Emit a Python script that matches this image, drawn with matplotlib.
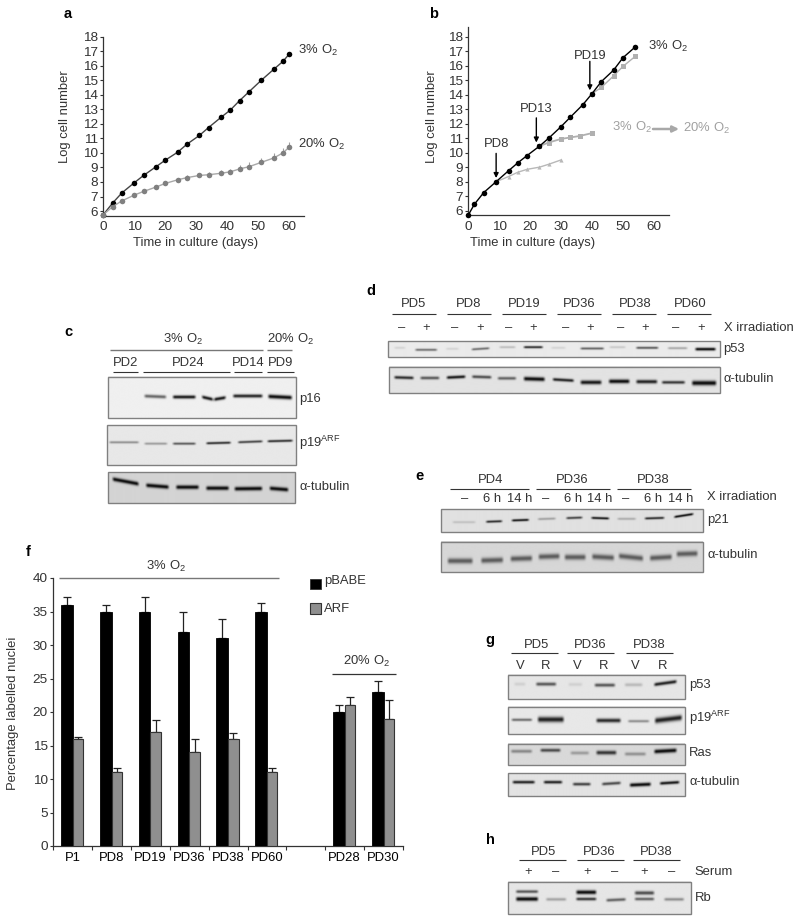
import numpy as np
import matplotlib
matplotlib.use("Agg")
import matplotlib.pyplot as plt
from matplotlib.patches import Rectangle

plt.rcParams['font.family'] = ['Liberation Sans', 'DejaVu Sans']
plt.rcParams['mathtext.fontset'] = 'custom'
plt.rcParams['mathtext.rm'] = 'Liberation Sans'
plt.rcParams['mathtext.default'] = 'regular'

W, H = 800, 924
TXT = '#333333'
FS = 9.4
O3 = r'$3\%\ O_2$'
O20 = r'$20\%\ O_2$'

# panel a
days_a = [0, 3, 6, 10, 13, 17, 20, 24, 27, 31, 34, 38, 41, 44, 47, 51, 55, 58, 60]
a_3 = [5.75, 6.55, 7.25, 7.95, 8.45, 9.05, 9.5, 10.05, 10.6, 11.2, 11.75, 12.45, 12.95, 13.6, 14.2, 15.0, 15.75, 16.3, 16.8]
a_3_err = [0, 0.05, 0.1, 0.05, 0.1, 0.05, 0.05, 0.05, 0.1, 0.1, 0.05, 0.05, 0.05, 0.05, 0.05, 0.05, 0.05, 0.1, 0.15]
a_20 = [5.75, 6.3, 6.7, 7.1, 7.35, 7.65, 7.9, 8.15, 8.3, 8.45, 8.5, 8.6, 8.7, 8.9, 9.05, 9.35, 9.65, 10.0, 10.4]
a_20_err = [0, 0.1, 0.1, 0.1, 0.1, 0.1, 0.1, 0.1, 0.15, 0.15, 0.2, 0.2, 0.2, 0.3, 0.3, 0.3, 0.35, 0.35, 0.35]

# panel b
days_b = [0, 2, 5, 9, 13, 16, 19, 23, 26, 30, 33, 37, 40, 43, 47, 50, 54]
b_3 = [5.7, 6.45, 7.25, 8.0, 8.75, 9.3, 9.8, 10.45, 11.0, 11.8, 12.45, 13.3, 14.07, 14.9, 15.7, 16.55, 17.3]
b_pd8_days = [9, 13, 16, 19, 23, 26, 30]
b_pd8 = [8.0, 8.35, 8.65, 8.85, 9.0, 9.2, 9.5]
b_pd13_days = [23, 26, 30, 33, 36, 40]
b_pd13 = [10.45, 10.7, 10.95, 11.05, 11.15, 11.35]
b_pd19_days = [40, 43, 47, 50, 54]
b_pd19 = [14.07, 14.5, 15.3, 15.95, 16.65]

# panel f
f_labels = ['P1', 'PD8', 'PD19', 'PD36', 'PD38', 'PD60', '', 'PD28', 'PD30']
f_slots = [0, 1, 2, 3, 4, 5, 7, 8]
pbabe = [36, 35, 35, 32, 31, 35, 20, 23]
pbabe_err = [1.2, 1.0, 2.1, 3.0, 2.9, 1.3, 1.0, 1.6]
arf = [16, 11, 17, 14, 16, 11, 21, 19]
arf_err = [0.2, 0.6, 1.8, 1.9, 0.9, 0.7, 1.3, 2.8]

# blots, in coordinates of a 3x crop: (x0, x1, y at x0, y at x1, darkness[, width])
blots_c = [
    ((175, 737, 290, 415), 0.94, 5, [(280, 352, 349, 352, 0.6), (365, 440, 352, 352, 0.95), (452, 492, 351, 360, 0.95),
                                     (488, 530, 360, 353, 0.95), (545, 640, 349, 349, 0.9), (650, 728, 350, 354, 1.0, 6)]),
    ((172, 737, 436, 555), 0.91, 3.5, [(175, 270, 487, 487, 0.4), (280, 355, 491, 491, 0.35), (365, 440, 491, 491, 0.65),
                                       (465, 545, 490, 488, 0.85), (560, 640, 487, 484, 0.75), (648, 730, 484, 482, 0.85)]),
    ((175, 735, 577, 670), 0.83, 6, [(185, 270, 597, 613, 1.0), (285, 360, 616, 622, 1.0), (375, 450, 622, 622, 1.0),
                                     (465, 540, 625, 625, 1.0), (550, 640, 627, 626, 1.0), (655, 718, 625, 630, 1.0)]),
]
blots_d = [
    ((55, 1050, 212, 260), 0.92, 3.5, [(70, 110, 232, 232, 0.1), (133, 205, 238, 238, 0.55), (225, 270, 235, 235, 0.1),
                                       (302, 362, 237, 233, 0.55), (385, 440, 230, 230, 0.2), (458, 522, 230, 230, 0.85),
                                       (540, 590, 232, 232, 0.1), (628, 705, 234, 234, 0.6), (715, 770, 230, 230, 0.15),
                                       (795, 868, 232, 232, 0.65), (890, 955, 233, 233, 0.3), (972, 1040, 236, 236, 1.0, 4.5)]),
    ((58, 1050, 290, 370), 0.89, 4.5, [(70, 135, 323, 325, 0.85), (148, 212, 325, 325, 0.65), (227, 290, 324, 321, 0.95),
                                       (303, 368, 321, 323, 0.7), (380, 442, 326, 326, 0.6), (458, 528, 327, 329, 1.0, 6),
                                       (545, 615, 329, 333, 0.9), (628, 698, 338, 338, 0.95, 6), (713, 782, 335, 335, 1.0, 6),
                                       (795, 865, 336, 336, 0.9, 5.5), (872, 948, 338, 338, 0.8), (962, 1042, 340, 340, 1.0, 7)]),
]
blots_e = [
    ((214, 998, 718, 787), 0.88, 3.5, [(245, 320, 757, 757, 0.15), (345, 400, 756, 754, 0.85), (422, 480, 752, 750, 0.95),
                                       (500, 560, 748, 746, 0.3), (585, 640, 745, 743, 0.75), (660, 720, 744, 746, 0.95),
                                       (738, 800, 747, 747, 0.25), (820, 885, 746, 744, 0.85), (908, 972, 742, 732, 1.0)]),
    ((214, 998, 815, 906), 0.84, 8, [(230, 312, 873, 873, 0.6), (330, 403, 872, 870, 0.6), (418, 490, 867, 865, 0.6),
                                     (502, 572, 861, 859, 0.6), (580, 650, 862, 862, 0.6), (662, 735, 860, 864, 0.6),
                                     (742, 822, 858, 866, 0.6), (835, 908, 865, 861, 0.6), (915, 985, 853, 851, 0.6)]),
]
blots_g = [
    ((85, 614, 255, 328), 0.9, 5, [(100, 140, 284, 284, 0.1), (165, 232, 284, 284, 0.65), (262, 310, 285, 285, 0.1),
                                   (340, 408, 287, 287, 0.65), (430, 490, 286, 286, 0.2), (518, 592, 286, 276, 0.9)]),
    ((85, 614, 351, 433), 0.91, 4, [(92, 160, 391, 391, 0.55), (170, 255, 390, 390, 0.9, 8), (345, 425, 393, 393, 0.85, 6),
                                    (440, 510, 395, 395, 0.4), (520, 608, 394, 384, 0.9, 8)]),
    ((85, 614, 461, 526), 0.85, 5, [(90, 160, 485, 485, 0.4), (178, 245, 482, 482, 0.7), (268, 330, 490, 490, 0.3),
                                    (345, 412, 489, 489, 0.8, 6), (430, 500, 493, 493, 0.35), (518, 592, 486, 482, 1.0, 6)]),
    ((85, 614, 548, 617), 0.89, 4.5, [(95, 168, 575, 575, 0.9), (188, 250, 575, 575, 0.9), (275, 335, 581, 581, 0.75),
                                      (362, 425, 581, 577, 0.7), (445, 515, 584, 581, 1.0, 5.5), (535, 600, 579, 575, 0.95)]),
]
blots_h = [
    ((85, 632, 875, 973), 0.9, 4.5, [(105, 178, 906, 906, 0.65), (105, 178, 928, 928, 1.0, 6), (195, 262, 929, 929, 0.3),
                                     (285, 352, 908, 908, 1.0, 6), (285, 352, 928, 928, 0.8), (375, 440, 932, 929, 0.6),
                                     (460, 525, 910, 910, 0.7, 5.5), (460, 525, 928, 928, 0.6), (548, 614, 929, 929, 0.4)]),
]


def axes_px(fig, left, right, top, bottom):
    return fig.add_axes([left / W, 1 - bottom / H, (right - left) / W, (bottom - top) / H])


def style_axes(ax):
    for s in ['top', 'right']:
        ax.spines[s].set_visible(False)
    for s in ['left', 'bottom']:
        ax.spines[s].set_linewidth(0.9)
        ax.spines[s].set_color(TXT)
    ax.tick_params(colors=TXT, labelsize=FS + 0.3, width=0.8, length=2.5, pad=1.5)


def draw_blot(ov, ox, oy, frame, bg, sig, bands):
    # image pixels are the crop pixels, so 3 per figure pixel
    x0, x1, y0, y1 = frame
    X, Y = np.meshgrid(np.arange(x0, x1), np.arange(y0, y1))
    dark = np.zeros(X.shape)
    for b in bands:
        s = b[5] if len(b) > 5 else sig
        env = np.clip((X - b[0]) / 9, 0, 1) * np.clip((b[1] - X) / 9, 0, 1)
        yc = b[2] + (b[3] - b[2]) * (X - b[0]) / (b[1] - b[0])
        dark += b[4] * env * np.exp(-((Y - yc) / s) ** 2)
    img = bg - (bg - 0.04) * np.clip(dark, 0, 1)
    ext = (ox + x0 / 3, ox + x1 / 3, oy + y1 / 3, oy + y0 / 3)
    ov.imshow(img, extent=ext, cmap='gray', vmin=0, vmax=1, aspect='auto', interpolation='bilinear', zorder=2)
    ov.add_patch(Rectangle((ext[0], ext[3]), ext[1] - ext[0], ext[2] - ext[3], fill=False,
                           ec='#808080', lw=1, zorder=3))


def put(ov, x, y, s, ha='center', color=TXT, size=FS, **kw):
    ov.text(x, y, s, ha=ha, va='center', color=color, fontsize=size, **kw)


def rule(ov, x0, x1, y, color=TXT, lw=0.8):
    ov.plot([x0, x1], [y, y], color=color, lw=lw, solid_capstyle='butt')


fig = plt.figure(figsize=(W / 100, H / 100), dpi=100)

# a
ax = axes_px(fig, 103.3, 304, 36.7, 215.7)
ax.plot(days_a, a_3, color='#444444', lw=1, zorder=2)
ax.errorbar(days_a, a_3, yerr=[np.zeros(len(a_3)), a_3_err], fmt='o', ms=4, mew=0, color='black',
            elinewidth=0.8, capsize=1.5, clip_on=False, zorder=3)
ax.plot(days_a, a_20, color='#a8a8a8', lw=1, zorder=4)
ax.errorbar(days_a, a_20, yerr=[np.zeros(len(a_20)), a_20_err], fmt='o', ms=4, mew=0, color='#808080',
            ecolor='#a0a0a0', elinewidth=0.8, capsize=1.5, clip_on=False, zorder=5)
ax.set_xlim(0, 64.8)
ax.set_ylim(5.68, 18)
ax.set_xticks(range(0, 61, 10))
ax.set_yticks(range(6, 19))
style_axes(ax)
ax.tick_params(axis='x', length=0, pad=4)

# b
bx = axes_px(fig, 468.3, 668.7, 27.3, 215)
bx.plot(b_pd8_days, b_pd8, '-^', color='#b8b8b8', lw=1, ms=3, mew=0, clip_on=False, zorder=2)
bx.plot(b_pd13_days, b_pd13, '-s', color='#b0b0b0', lw=1.3, ms=3.6, mew=0, clip_on=False, zorder=2)
bx.plot(b_pd19_days, b_pd19, '-s', color='#b0b0b0', lw=1, ms=3.6, mew=0, clip_on=False, zorder=2)
bx.plot(days_b, b_3, '-o', color='black', lw=1, ms=4, mew=0, clip_on=False, zorder=4)
bx.set_xlim(0, 64.8)
bx.set_ylim(5.7, 18.65)
bx.set_xticks(range(0, 61, 10))
bx.set_yticks(range(6, 19))
style_axes(bx)
bx.tick_params(axis='x', length=0, pad=4)
for lbl, x, y_from, y_to, y_text in [('PD8', 9, 9.95, 8.25, 10.6), ('PD13', 22, 12.4, 10.7, 13.0), ('PD19', 39.3, 16.3, 14.3, 16.7)]:
    bx.annotate('', xy=(x, y_to), xytext=(x, y_from),
                arrowprops=dict(arrowstyle='-|>', color='black', lw=1, mutation_scale=7, shrinkA=0, shrinkB=0), zorder=6)
    bx.text(x, y_text, lbl, ha='center', va='center', fontsize=FS, color=TXT)

# f
fx = axes_px(fig, 53.3, 403, 578, 846)
xs = np.array(f_slots)
fx.bar(xs + 0.2, pbabe, width=0.3, align='edge', color='black', edgecolor='black', lw=0.6, zorder=3)
fx.bar(xs + 0.5, arf, width=0.27, align='edge', color='#8f8f8f', edgecolor='#333333', lw=0.8, zorder=3)
fx.errorbar(xs + 0.35, pbabe, yerr=[np.zeros(len(pbabe)), pbabe_err], fmt='none', ecolor='#222222',
            elinewidth=0.9, capsize=3, capthick=0.9, zorder=2)
fx.errorbar(xs + 0.635, arf, yerr=[np.zeros(len(arf)), arf_err], fmt='none', ecolor='#222222',
            elinewidth=0.9, capsize=3, capthick=0.9, zorder=2)
fx.set_xlim(0, 9)
fx.set_ylim(0, 40)
fx.set_yticks(range(0, 41, 5))
fx.set_xticks(range(10))
fx.set_xticklabels([])
fx.set_xticks(np.arange(9) + 0.5, minor=True)
fx.set_xticklabels(f_labels, minor=True)
style_axes(fx)
fx.tick_params(axis='x', which='major', length=3)
fx.tick_params(axis='x', which='minor', length=0, pad=4, labelsize=FS)

# everything else in figure pixels
ov = fig.add_axes([0, 0, 1, 1])
ov.patch.set_alpha(0)
ov.axis('off')

for frame, bg, sig, bands in blots_c:
    draw_blot(ov, 50, 280, frame, bg, sig, bands)
for frame, bg, sig, bands in blots_d + blots_e:
    draw_blot(ov, 370, 270, frame, bg, sig, bands)
for frame, bg, sig, bands in blots_g + blots_h:
    draw_blot(ov, 480, 590, frame, bg, sig, bands)
ov.set_xlim(0, W)
ov.set_ylim(H, 0)

# panel letters
for s, x, y in [('a', 68, 14), ('b', 434, 14), ('c', 68, 332), ('d', 371, 291),
                ('e', 420, 476), ('f', 28, 552), ('g', 490, 640), ('h', 490, 840)]:
    put(ov, x, y, s, color='black', size=10.5, fontweight='bold')

# chart labels
put(ov, 196, 243, 'Time in culture (days)')
put(ov, 533, 243, 'Time in culture (days)')
put(ov, 65, 117, 'Log cell number', rotation=90)
put(ov, 432, 117, 'Log cell number', rotation=90)
put(ov, 13, 713, 'Percentage labelled nuclei', rotation=90)
put(ov, 297.5, 50, O3, ha='left')
put(ov, 297.5, 144, O20, ha='left')
put(ov, 648.5, 46, O3, ha='left')
put(ov, 612, 127, O3, ha='left', color='#a0a0a0')
put(ov, 683, 128, O20, ha='left', color='#a0a0a0')
ov.annotate('', xy=(679, 129), xytext=(653, 129),
            arrowprops=dict(arrowstyle='-|>', color='#a8a8a8', lw=1.8, mutation_scale=9, shrinkA=0, shrinkB=0))

# f extras
rule(ov, 58.7, 278.7, 578, color='#777777', lw=1)
put(ov, 166, 566, O3)
rule(ov, 331.7, 395.7, 674, lw=0.9)
put(ov, 366.7, 661, O20)
ov.add_patch(Rectangle((310, 578.7), 10.7, 10.3, fc='black', ec='#333333', lw=0.6))
ov.add_patch(Rectangle((310, 603.3), 10.7, 11, fc='#8f8f8f', ec='#333333', lw=0.8))
put(ov, 324, 581, 'pBABE', ha='left')
put(ov, 324, 609, 'ARF', ha='left')

# c
ox, oy = 50, 280
rule(ov, ox + 181 / 3, ox + 638 / 3, oy + 210 / 3, color='#777777', lw=1)
rule(ov, ox + 650 / 3, ox + 725 / 3, oy + 210 / 3, color='#777777', lw=1)
put(ov, ox + 400 / 3, oy + 178 / 3, O3)
put(ov, ox + 722 / 3, oy + 178 / 3, O20)
for s, xc, x0, x1 in [('PD2', 226, 188, 265), ('PD24', 415, 280, 540), ('PD14', 594, 552, 635), ('PD9', 693, 652, 732)]:
    put(ov, ox + xc / 3, oy + 250 / 3, s)
    rule(ov, ox + x0 / 3, ox + x1 / 3, oy + 275 / 3)
for s, y in [('p16', 356), ('p19$^{ARF}$', 490), ('α-tubulin', 620)]:
    put(ov, ox + 748 / 3, oy + y / 3, s, ha='left')

# d
ox, oy = 370, 270
for s, xc, x0, x1 in [('PD5', 132, 66, 198), ('PD8', 297, 231, 364), ('PD19', 464, 395, 528),
                      ('PD36', 628, 560, 693), ('PD38', 795, 725, 858), ('PD60', 960, 890, 1024)]:
    put(ov, ox + xc / 3, oy + 102 / 3, s)
    rule(ov, ox + x0 / 3, ox + x1 / 3, oy + 131 / 3)
for s, x in zip(['–', '+'] * 6, [94, 167, 255, 330, 416, 489, 587, 660, 751, 824, 918, 992]):
    put(ov, ox + x / 3, oy + 173 / 3, s)
put(ov, ox + 1062 / 3, oy + 175 / 3, 'X irradiation', ha='left')
put(ov, ox + 1060 / 3, oy + 236 / 3, 'p53', ha='left')
put(ov, ox + 1060 / 3, oy + 327 / 3, 'α-tubulin', ha='left')

# e
for s, xc, x0, x1 in [('PD4', 363, 240, 477), ('PD36', 608, 497, 720), ('PD38', 851, 740, 963)]:
    put(ov, ox + xc / 3, oy + 631 / 3, s)
    rule(ov, ox + x0 / 3, ox + x1 / 3, oy + 656 / 3)
for s, x in zip(['–', '6 h', '14 h'] * 3, [283, 366, 449, 527, 608, 690, 766, 849, 931]):
    put(ov, ox + x / 3, oy + 686 / 3, s)
put(ov, ox + 1012 / 3, oy + 682 / 3, 'X irradiation', ha='left')
put(ov, ox + 1012 / 3, oy + 749 / 3, 'p21', ha='left')
put(ov, ox + 1012 / 3, oy + 856 / 3, 'α-tubulin', ha='left')

# g
ox, oy = 480, 590
for s, xc, x0, x1 in [('PD5', 170, 94, 235), ('PD36', 330, 262, 403), ('PD38', 507, 437, 578)]:
    put(ov, ox + xc / 3, oy + 165 / 3, s)
    rule(ov, ox + x0 / 3, ox + x1 / 3, oy + 188 / 3)
for s, x in zip(['V', 'R'] * 3, [120, 198, 293, 371, 467, 547]):
    put(ov, ox + x / 3, oy + 229 / 3, s)
for s, y in [('p53', 286), ('p19$^{ARF}$', 385), ('Ras', 489), ('α-tubulin', 576)]:
    put(ov, ox + 627 / 3, oy + y / 3, s, ha='left')

# h
for s, xc, x0, x1 in [('PD5', 191, 116, 258), ('PD36', 358, 291, 432), ('PD38', 529, 460, 600)]:
    put(ov, ox + xc / 3, oy + 787 / 3, s)
    rule(ov, ox + x0 / 3, ox + x1 / 3, oy + 811 / 3)
for s, x in zip(['+', '–'] * 3, [144, 228, 320, 403, 492, 575]):
    put(ov, ox + x / 3, oy + 846 / 3, s)
put(ov, ox + 642 / 3, oy + 846 / 3, 'Serum', ha='left')
put(ov, ox + 644 / 3, oy + 923 / 3, 'Rb', ha='left')

ov.set_xlim(0, W)
ov.set_ylim(H, 0)

fig.savefig('out.png', dpi=100)
